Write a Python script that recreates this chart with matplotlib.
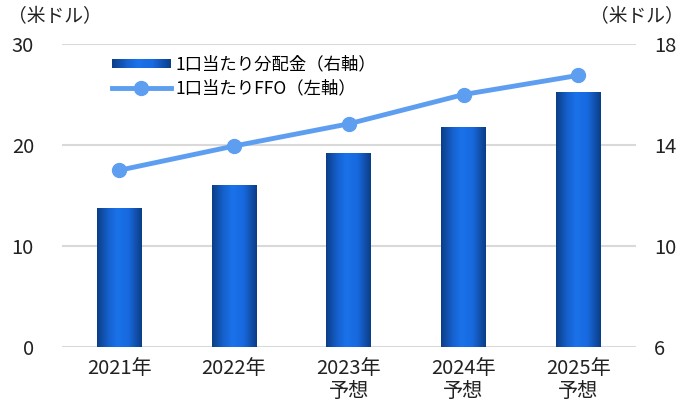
import numpy as np
import matplotlib
matplotlib.use("Agg")
import matplotlib.pyplot as plt
from matplotlib.patches import Rectangle
from matplotlib.colors import LinearSegmentedColormap
from matplotlib.legend_handler import HandlerBase
from matplotlib.lines import Line2D

plt.rcParams['font.family'] = ['Noto Sans CJK JP', 'DejaVu Sans']

categories = ["2021年", "2022年", "2023年\n予想", "2024年\n予想", "2025年\n予想"]
dividend = [11.5, 12.4, 13.7, 14.7, 16.1]   # right axis (bars)
ffo = [17.5, 19.9, 22.1, 25.0, 26.9]        # left axis (line)
left_ticks = [0, 10, 20, 30]
right_ticks = [6, 10, 14, 18]
unit = "（米ドル）"
bar_label = "1口当たり分配金（右軸）"
line_label = "1口当たりFFO（左軸）"

cmap = LinearSegmentedColormap.from_list(
    "bar", [(0.0, "#0b3d86"), (0.25, "#1560cc"), (0.45, "#1a72ea"),
            (0.7, "#1869df"), (1.0, "#0b3d86")])
grad = np.linspace(0, 1, 256).reshape(1, -1)

fig = plt.figure(figsize=(6.94, 4.08), dpi=100)
ax = fig.add_axes([0.089, 0.1495, 0.827, 0.7425])
ax2 = ax.twinx()

x = np.arange(len(categories))
ax.set_xlim(-0.5, len(categories) - 0.5)
ax.set_ylim(0, 30)
ax2.set_ylim(6, 18)
ax.set_yticks(left_ticks)
ax2.set_yticks(right_ticks)

for y in right_ticks:
    ax2.axhline(y, color="#d9d9d9", lw=1.5, zorder=0)

bw = 0.39
for xi, v in zip(x, dividend):
    r = Rectangle((xi - bw / 2, 6), bw, v - 6, facecolor="none", edgecolor="none")
    ax2.add_patch(r)
    im = ax2.imshow(grad, cmap=cmap, aspect="auto",
                    extent=(xi - bw / 2, xi + bw / 2, 6, v), zorder=2)
    im.set_clip_path(r)
ax2.set_xlim(-0.5, len(categories) - 0.5)
ax2.set_ylim(6, 18)

ax2.set_zorder(1)
ax.set_zorder(2)
ax.patch.set_visible(False)
ax.plot(x, ffo, color="#5e9ef1", lw=3.5, marker="o", ms=10, zorder=3)

for a in (ax, ax2):
    for s in a.spines.values():
        s.set_visible(False)
    a.tick_params(length=0, labelsize=14.5, colors="#222222")
ax.tick_params(axis="y", pad=20)
ax2.tick_params(axis="y", pad=13)
ax.set_xticks(x)
ax.set_xticklabels(categories, linespacing=1.1)
ax.tick_params(axis="x", pad=8)

fig.text(0.012, 0.958, unit, fontsize=13.5, color="#222222", ha="left", va="center")
fig.text(0.985, 0.958, unit, fontsize=13.5, color="#222222", ha="right", va="center")


class GradHandler(HandlerBase):
    def create_artists(self, legend, orig_handle, xdescent, ydescent, width,
                       height, fontsize, trans):
        arts = []
        n = 30
        h = height * 0.7
        y0 = -ydescent + (height - h) / 2
        for i in range(n):
            c = cmap((i + 0.5) / n)
            arts.append(Rectangle((-xdescent + width * i / n, y0), width / n * 1.05, h,
                                  facecolor=c, edgecolor="none", transform=trans))
        return arts


bar_handle = Rectangle((0, 0), 1, 1)
line_handle = Line2D([], [], color="#5e9ef1", lw=3.5, marker="o", ms=10)
leg = ax.legend([bar_handle, line_handle], [bar_label, line_label],
                handler_map={Rectangle: GradHandler()},
                loc="upper left", bbox_to_anchor=(0.075, 0.985), frameon=False,
                fontsize=12.5, handlelength=3.4, handletextpad=0.3,
                labelspacing=0.35, borderaxespad=0)

fig.savefig("out.png", dpi=100)
